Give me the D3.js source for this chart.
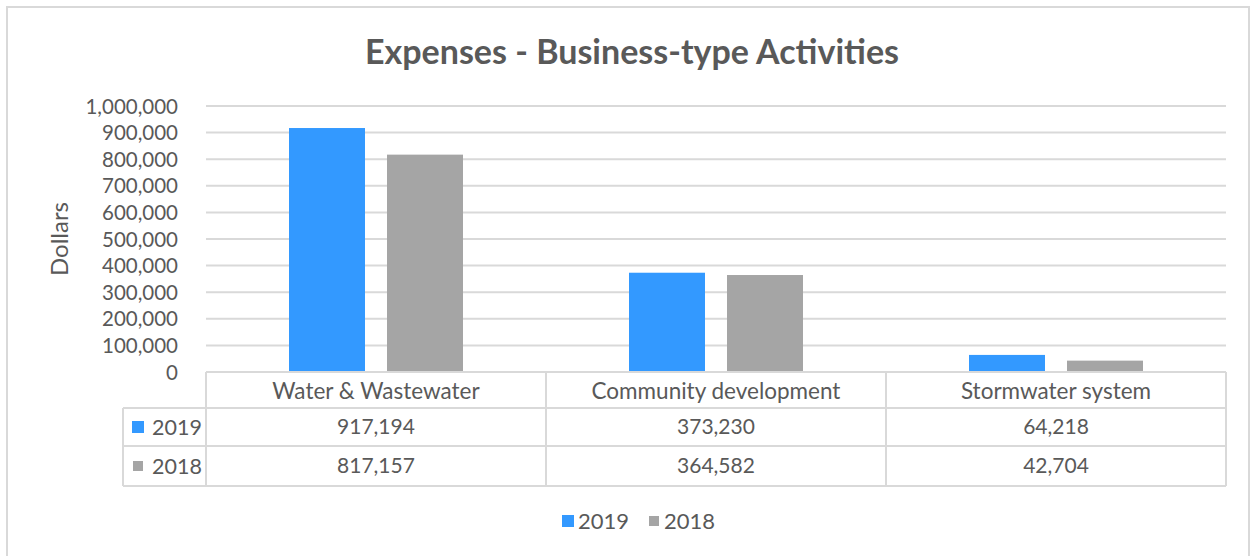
<!DOCTYPE html>
<html>
<head>
<meta charset="utf-8">
<title>Expenses - Business-type Activities</title>
<script src="https://cdn.jsdelivr.net/npm/d3@7"></script>
<style>
body { margin: 0; background: #fff; }
text { font-family: Lato, "Open Sans", sans-serif; fill: #595959; }
</style>
</head>
<body>
<div class="chart"></div>
<script>
var categories = ['Water & Wastewater', 'Community development', 'Stormwater system'];
var seriesNames = ['2019', '2018'];
var values2019 = [917194, 373230, 64218];
var values2018 = [817157, 364582, 42704];
var yTicks = [0, 100000, 200000, 300000, 400000, 500000, 600000, 700000, 800000, 900000, 1000000];

var colors = ['#3399FF', '#A5A5A5'];
var series = [values2019, values2018];

var width = 1255, height = 556;
var plot = {left: 206, right: 1226, top: 106, bottom: 372};
var rowH = [36, 38, 40];
var keyColLeft = 123;

var svg = d3.select('.chart')
    .append('svg')
    .attr('width', width)
    .attr('height', height);

// chart area border
svg.append('rect')
    .attr('x', 7).attr('y', 7)
    .attr('width', 1242).attr('height', 560)
    .attr('fill', '#fff')
    .attr('stroke', '#D9D9D9')
    .attr('stroke-width', 2);

svg.append('text')
    .text('Expenses - Business-type Activities')
    .attr('x', 632).attr('y', 64)
    .attr('text-anchor', 'middle')
    .attr('font-size', 34)
    .attr('font-weight', 'bold');

var x = d3.scaleBand()
    .domain(categories)
    .range([plot.left, plot.right]);

var y = d3.scaleLinear()
    .domain([0, 1000000])
    .range([plot.bottom, plot.top]);

var xInner = d3.scaleBand()
    .domain(seriesNames)
    .range([0, x.bandwidth()])
    .paddingInner(0.2245)
    .paddingOuter(0.847);

// gridlines
svg.append('g')
    .selectAll('line')
    .data(yTicks.slice(1))
    .enter().append('line')
    .attr('x1', plot.left).attr('x2', plot.right)
    .attr('y1', d => y(d)).attr('y2', d => y(d))
    .attr('stroke', '#D9D9D9')
    .attr('stroke-width', 2);

// y axis labels
var yAxis = d3.axisLeft(y)
    .tickValues(yTicks)
    .tickFormat(d3.format(','))
    .tickSize(0)
    .tickPadding(0);

var yg = svg.append('g')
    .attr('transform', 'translate(178,0)')
    .call(yAxis);
yg.select('.domain').remove();
yg.selectAll('text')
    .attr('font-size', 20.5)
    .attr('dy', '0.35em')
    .style('font-family', 'Lato, "Open Sans", sans-serif')
    .style('fill', '#595959');

svg.append('text')
    .text('Dollars')
    .attr('transform', 'translate(68,239) rotate(-90)')
    .attr('text-anchor', 'middle')
    .attr('font-size', 24);

// bars
svg.append('g')
    .selectAll('g')
    .data(categories)
    .enter().append('g')
    .attr('transform', d => 'translate(' + x(d) + ',0)')
    .selectAll('rect')
    .data((d, i) => seriesNames.map((s, j) => ({s: s, v: series[j][i], j: j})))
    .enter().append('rect')
    .attr('x', d => xInner(d.s))
    .attr('width', xInner.bandwidth())
    .attr('y', d => y(d.v))
    .attr('height', d => y(0) - y(d.v))
    .attr('fill', d => colors[d.j]);

// data table
var fmt = d3.format(',');
var rowTop = [plot.bottom, plot.bottom + rowH[0], plot.bottom + rowH[0] + rowH[1]];
var tableBottom = rowTop[2] + rowH[2];
var table = svg.append('g')
    .attr('stroke', '#D9D9D9')
    .attr('stroke-width', 2)
    .attr('fill', 'none');

// horizontal lines
table.append('line')
    .attr('x1', plot.left).attr('x2', plot.right)
    .attr('y1', rowTop[0]).attr('y2', rowTop[0]);
[rowTop[1], rowTop[2], tableBottom].forEach(function(yy) {
    table.append('line')
        .attr('x1', keyColLeft).attr('x2', plot.right)
        .attr('y1', yy).attr('y2', yy);
});
// vertical lines
table.append('line')
    .attr('x1', keyColLeft).attr('x2', keyColLeft)
    .attr('y1', rowTop[1]).attr('y2', tableBottom);
categories.forEach(function(c) {
    table.append('line')
        .attr('x1', x(c)).attr('x2', x(c))
        .attr('y1', rowTop[0]).attr('y2', tableBottom);
});
table.append('line')
    .attr('x1', plot.right).attr('x2', plot.right)
    .attr('y1', rowTop[0]).attr('y2', tableBottom);

// header texts
svg.append('g')
    .selectAll('text')
    .data(categories)
    .enter().append('text')
    .text(d => d)
    .attr('x', d => x(d) + x.bandwidth() / 2)
    .attr('y', rowTop[0] + rowH[0] / 2 + 1)
    .attr('dy', '0.35em')
    .attr('text-anchor', 'middle')
    .attr('font-size', 22.5);

// series rows
seriesNames.forEach(function(s, j) {
    var cy = rowTop[j + 1] + rowH[j + 1] / 2;
    var ks = j === 0 ? 12 : 10;
    svg.append('rect')
        .attr('x', 138 - ks / 2).attr('y', cy - ks / 2)
        .attr('width', ks).attr('height', ks)
        .attr('fill', colors[j]);
    svg.append('text')
        .text(s)
        .attr('x', 152).attr('y', cy)
        .attr('dy', '0.35em')
        .attr('font-size', 21.5);
    svg.append('g')
        .selectAll('text')
        .data(series[j])
        .enter().append('text')
        .text(d => fmt(d))
        .attr('x', (d, i) => x(categories[i]) + x.bandwidth() / 2)
        .attr('y', cy)
        .attr('dy', '0.35em')
        .attr('text-anchor', 'middle')
        .attr('font-size', 21);
});

// legend
var legend = svg.append('g');
var legendX = [562, 648];
seriesNames.forEach(function(s, j) {
    var ks = j === 0 ? 12 : 10;
    legend.append('rect')
        .attr('x', legendX[j] + (12 - ks) / 2).attr('y', 521 - ks / 2)
        .attr('width', ks).attr('height', ks)
        .attr('fill', colors[j]);
    legend.append('text')
        .text(s)
        .attr('x', legendX[j] + 16).attr('y', 521)
        .attr('dy', '0.35em')
        .attr('font-size', 22);
});
</script>
</body>
</html>
